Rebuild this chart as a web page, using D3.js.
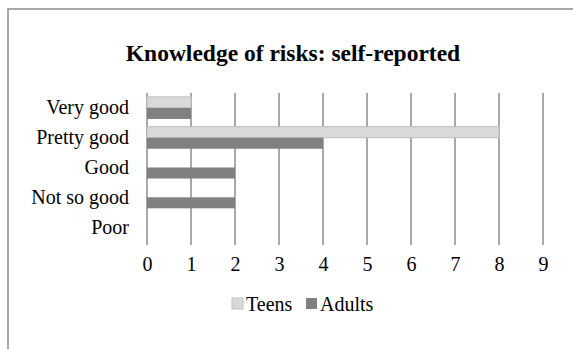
<!DOCTYPE html>
<html>
<head>
<meta charset="utf-8">
<script src="https://cdn.jsdelivr.net/npm/d3@7"></script>
<style>
  html, body { margin: 0; padding: 0; background: #fff; }
  svg text { font-family: "Liberation Serif", "Times New Roman", Times, serif !important; fill: #000; }
</style>
</head>
<body>
<svg id="chart" width="573" height="349"></svg>
<script>
// Survey responses, top to bottom
const categories = ["Very good", "Pretty good", "Good", "Not so good", "Poor"];
const teens = [1, 8, 0, 0, 0];
const adults = [1, 4, 2, 2, 0];
const seriesNames = ["Teens", "Adults"];
const seriesColors = ["#d9d9d9", "#808080"];
const xTicks = [0, 1, 2, 3, 4, 5, 6, 7, 8, 9];

const svg = d3.select("#chart");

// outer frame (right and bottom edges run past the viewport)
svg.append("rect")
  .attr("x", 8).attr("y", 9)
  .attr("width", 700).attr("height", 500)
  .attr("fill", "none").attr("stroke", "#8c8c8c").attr("stroke-width", 1.5);

svg.append("text")
  .attr("x", 293).attr("y", 61)
  .attr("text-anchor", "middle")
  .attr("font-weight", "bold")
  .attr("font-size", 23.5)
  .text("Knowledge of risks: self-reported");

const plot = { left: 147, right: 543, top: 93, bottom: 242 };

const x = d3.scaleLinear().domain([0, 9]).range([plot.left, plot.right]);
const y = d3.scaleBand().domain(categories).range([plot.top, plot.bottom]).paddingInner(0.26).paddingOuter(0.13);
const ySub = d3.scaleBand().domain(seriesNames).range([0, y.bandwidth()]);

// vertical gridlines
svg.append("g")
  .selectAll("line")
  .data(xTicks)
  .join("line")
  .attr("x1", d => x(d)).attr("x2", d => x(d))
  .attr("y1", plot.top).attr("y2", plot.bottom + 3)
  .attr("stroke", "#8c8c8c").attr("stroke-width", 1.5);

// bars
const rows = categories.map((c, i) => ({ cat: c, vals: [teens[i], adults[i]] }));
const groups = svg.append("g")
  .selectAll("g")
  .data(rows)
  .join("g")
  .attr("transform", d => `translate(0,${y(d.cat)})`);

groups.selectAll("rect")
  .data(d => d.vals.map((v, j) => ({ v, s: seriesNames[j], c: seriesColors[j] })).filter(e => e.v > 0))
  .join("rect")
  .attr("x", x(0))
  .attr("y", d => ySub(d.s))
  .attr("width", d => x(d.v) - x(0))
  .attr("height", ySub.bandwidth())
  .attr("fill", d => d.c)
  .attr("stroke", d => d.s === "Teens" ? "#bfbfbf" : "none")
  .attr("stroke-width", 1);

// category axis labels
const yAxis = d3.axisLeft(y).tickSize(0).tickPadding(0);
const yg = svg.append("g").attr("transform", `translate(${plot.left - 18},0)`).call(yAxis);
yg.select(".domain").remove();
yg.selectAll("text").attr("font-size", 20);

// value axis labels
const xAxis = d3.axisBottom(x).tickValues(xTicks).tickFormat(d3.format("d")).tickSize(0).tickPadding(0);
const xg = svg.append("g").attr("transform", `translate(0,${plot.bottom + 15})`).call(xAxis);
xg.select(".domain").remove();
xg.selectAll("text").attr("font-size", 20);

// legend
const legendItems = [
  { name: "Teens", color: seriesColors[0], x: 232, stroke: "#bfbfbf" },
  { name: "Adults", color: seriesColors[1], x: 306, stroke: "none" }
];
const lg = svg.append("g")
  .selectAll("g")
  .data(legendItems)
  .join("g")
  .attr("transform", d => `translate(${d.x},298)`);
lg.append("rect")
  .attr("width", 11).attr("height", 11)
  .attr("fill", d => d.color)
  .attr("stroke", d => d.stroke);
lg.append("text")
  .attr("x", 14).attr("y", 13)
  .attr("font-size", 20)
  .text(d => d.name);
</script>
</body>
</html>
